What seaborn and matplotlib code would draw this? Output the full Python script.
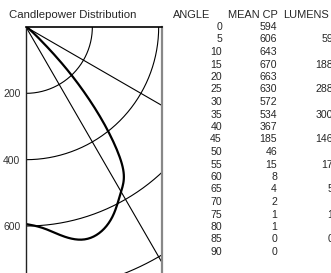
import numpy as np
import pandas as pd
import seaborn as sns
import matplotlib.pyplot as plt

# candlepower table
angles = [0, 5, 10, 15, 20, 25, 30, 35, 40, 45, 50, 55, 60, 65, 70, 75, 80, 85, 90]
mean_cp = [594, 606, 643, 670, 663, 630, 572, 534, 367, 185, 46, 15, 8, 4, 2, 1, 1, 0, 0]
lumen_angles = [5, 15, 25, 35, 45, 55, 65, 75, 85]
lumens = [59, 188, 288, 300, 146, 17, 5, 1, 0]

rings = [200, 400, 600, 800]
rays = [30, 60]
ytick_vals = [200, 400, 600]


def bspline(px, py, n=12):
    """Uniform cubic B-spline smoothing of the polyline (display only)."""
    px = np.r_[px[0], px[0], px, px[-1], px[-1]]
    py = np.r_[py[0], py[0], py, py[-1], py[-1]]
    t = np.linspace(0, 1, n, endpoint=False)
    b0 = (1 - t) ** 3 / 6
    b1 = (3 * t ** 3 - 6 * t ** 2 + 4) / 6
    b2 = (-3 * t ** 3 + 3 * t ** 2 + 3 * t + 1) / 6
    b3 = t ** 3 / 6
    xs, ys = [], []
    for i in range(len(px) - 3):
        xs.extend(b0 * px[i] + b1 * px[i + 1] + b2 * px[i + 2] + b3 * px[i + 3])
        ys.extend(b0 * py[i] + b1 * py[i + 1] + b2 * py[i + 2] + b3 * py[i + 3])
    xs.append(px[-1])
    ys.append(py[-1])
    return np.array(xs), np.array(ys)


sns.set_style("white")
plt.rcParams['font.family'] = ['Liberation Sans', 'DejaVu Sans']

W, H = 331, 273
fig = plt.figure(figsize=(W / 100, H / 100), dpi=100)
left, right, top = 26, 162, 27
ax = fig.add_axes([left / W, 0, (right - left) / W, 1 - top / H])

scale = 0.3317  # px per candela
ax.set_xlim(0, (right - left) / scale)
ax.set_ylim((H - top) / scale, 0)

th = np.deg2rad(np.linspace(0, 90, 181))
for r in rings:
    ax.plot(r * np.sin(th), r * np.cos(th), color='black', lw=0.8)
for a in rays:
    ra = np.deg2rad(a)
    ax.plot([0, 2000 * np.sin(ra)], [0, 2000 * np.cos(ra)], color='black', lw=0.8)

rad = np.deg2rad(angles)
cx, cy = bspline(np.array(mean_cp) * np.sin(rad), np.array(mean_cp) * np.cos(rad))
curve = pd.DataFrame({'x': cx, 'y': cy})
sns.lineplot(data=curve, x='x', y='y', sort=False, estimator=None, color='black', lw=1.6, ax=ax)

ax.set_xticks([])
ax.set_yticks(ytick_vals)
ax.set_yticklabels([str(v) for v in ytick_vals], fontsize=7.5, color='#333333')
ax.tick_params(axis='y', length=0, pad=4)
ax.set_xlabel('')
ax.set_ylabel('')
ax.spines['left'].set_color('#222222')
ax.spines['left'].set_linewidth(1.0)
ax.spines['top'].set_color('black')
ax.spines['top'].set_linewidth(1.2)
ax.spines['right'].set_color('#888888')
ax.spines['right'].set_linewidth(1.6)
ax.spines['bottom'].set_visible(False)

fig.text(9 / W, 1 - 15 / H, 'Candlepower Distribution', fontsize=8.2, va='center', ha='left')

# table
fs = 7.6
fig.text(173 / W, 1 - 15 / H, 'ANGLE', fontsize=7.9, va='center', ha='left')
fig.text(228 / W, 1 - 15 / H, 'MEAN CP', fontsize=7.9, va='center', ha='left')
fig.text(283 / W, 1 - 15 / H, 'LUMENS', fontsize=7.9, va='center', ha='left')
row0, step = 27, 12.5
for i, (a, cp) in enumerate(zip(angles, mean_cp)):
    yy = 1 - (row0 + i * step) / H
    fig.text(222 / W, yy, str(a), fontsize=fs, va='center', ha='right')
    fig.text(277 / W, yy, str(cp), fontsize=fs, va='center', ha='right')
    if a in lumen_angles:
        fig.text(333 / W, yy, str(lumens[lumen_angles.index(a)]), fontsize=fs, va='center', ha='right')

fig.savefig('out.png', dpi=100)
